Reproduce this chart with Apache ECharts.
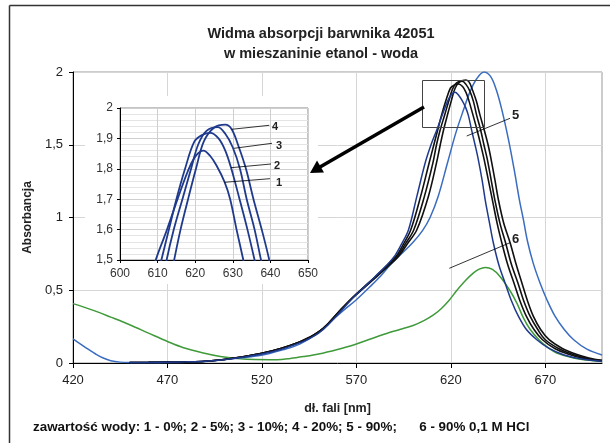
<!DOCTYPE html>
<html>
<head>
<meta charset="utf-8">
<script src="https://cdn.jsdelivr.net/npm/echarts@6/dist/echarts.min.js"></script>
<style>
  html, body { margin: 0; padding: 0; background: #fff; }
  #main { width: 610px; height: 443px; }
</style>
</head>
<body>
<div id="main"></div>
<script>
// osie
var xTicks = [420, 470, 520, 570, 620, 670];
var yTicks = [0, 0.5, 1, 1.5, 2];

// widma: [dł. fali nm, absorbancja]
// 1 - 0% wody
var curve1 = [[450,0.002],[460,0.004],[470,0.006],[480,0.008],[490,0.012],[500,0.022],[510,0.04],[520,0.062],[530,0.093],[540,0.138],[545,0.168],[550,0.205],[555,0.262],[562,0.36],[568,0.445],[574,0.52],[580,0.595],[586,0.672],[590.5,0.74],[594,0.82],[597.6,0.916],[602,1.145],[606.4,1.375],[609.5,1.5],[612.5,1.6],[615.3,1.7],[618.3,1.8],[620.3,1.845],[622.2,1.86],[624,1.842],[625.7,1.81],[627.8,1.757],[629.3,1.7],[631,1.6],[632.8,1.5],[634.5,1.4],[636.5,1.26],[638.2,1.12],[640.5,0.96],[642.5,0.825],[645.5,0.67],[648.7,0.55],[652,0.43],[655.8,0.32],[660,0.23],[665.5,0.16],[672,0.1],[680,0.055],[690,0.025],[700,0.012]];
// 2 - 5%
var curve2 = [[450,0.003],[460,0.004],[470,0.006],[480,0.008],[490,0.012],[500,0.024],[510,0.043],[520,0.067],[530,0.1],[540,0.145],[545,0.175],[550,0.213],[555,0.27],[562,0.37],[568,0.45],[574,0.522],[580,0.593],[586,0.668],[591,0.733],[595,0.82],[598.8,0.916],[604,1.145],[608.5,1.375],[611,1.5],[613,1.6],[615,1.7],[617.3,1.8],[619.8,1.89],[622,1.912],[624,1.918],[626.2,1.9],[628,1.86],[629.5,1.805],[631.8,1.7],[633.9,1.6],[635.8,1.5],[637.6,1.4],[639.8,1.26],[642,1.12],[644.5,0.96],[647,0.825],[650,0.68],[653.4,0.55],[656.5,0.43],[660,0.32],[664,0.23],[668.5,0.16],[675,0.1],[682,0.062],[690,0.032],[700,0.015]];
// 3 - 10%
var curve3 = [[450,0.003],[460,0.004],[470,0.006],[480,0.008],[490,0.012],[500,0.024],[510,0.043],[520,0.067],[530,0.1],[540,0.145],[545,0.175],[550,0.213],[555,0.27],[562,0.37],[568,0.45],[574,0.52],[580,0.59],[586,0.662],[591.7,0.733],[596,0.82],[600.4,0.916],[606,1.145],[610.5,1.375],[612.4,1.5],[614.3,1.6],[616.6,1.7],[618.9,1.8],[620.8,1.88],[623,1.925],[626,1.937],[628,1.915],[630,1.87],[631.9,1.8],[633.7,1.7],[635.8,1.6],[637.5,1.5],[639.3,1.4],[641.3,1.26],[643.3,1.12],[646,0.96],[649,0.825],[652,0.68],[655.5,0.55],[658.5,0.43],[662,0.32],[666,0.23],[670,0.16],[677,0.1],[684,0.062],[692,0.032],[700,0.016]];
// 4 - 20%
var curve4 = [[450,0.003],[460,0.004],[470,0.006],[480,0.008],[490,0.012],[500,0.024],[510,0.043],[520,0.067],[530,0.1],[540,0.145],[545,0.175],[550,0.213],[555,0.27],[562,0.368],[568,0.447],[574,0.517],[580,0.585],[586,0.655],[592.3,0.733],[597,0.82],[602,0.916],[608.1,1.145],[612.4,1.375],[614.4,1.5],[616.1,1.6],[618.1,1.7],[620.2,1.8],[622.3,1.89],[625,1.935],[628,1.945],[629.7,1.93],[631.5,1.875],[633.5,1.8],[635.5,1.7],[637.7,1.6],[639.7,1.5],[641.3,1.4],[643.3,1.26],[645.2,1.12],[648,0.96],[651.4,0.825],[654.5,0.68],[657.6,0.55],[660.5,0.43],[663.7,0.32],[667.5,0.23],[672,0.16],[679,0.1],[686,0.062],[693,0.035],[700,0.018]];
// 5 - 90%
var curve5 = [[420,0.165],[424,0.13],[428,0.095],[432,0.062],[436,0.034],[440,0.016],[445,0.006],[450,0.003],[460,0.002],[470,0.003],[480,0.005],[489,0.01],[498,0.021],[507,0.033],[516,0.046],[524,0.066],[531,0.09],[540,0.13],[549,0.2],[556,0.28],[563,0.36],[570,0.435],[577,0.522],[583,0.6],[588,0.675],[594,0.752],[600,0.83],[605,0.91],[609,1.0],[613.4,1.15],[618.2,1.375],[622.6,1.58],[626.7,1.74],[630,1.86],[633.5,1.95],[637.5,2.0],[641,1.97],[644,1.88],[647,1.74],[650.5,1.535],[653.5,1.33],[656.3,1.12],[658.4,0.985],[660.5,0.84],[663.5,0.69],[667.2,0.55],[671,0.43],[675.2,0.32],[680,0.23],[685,0.16],[692,0.095],[700,0.055]];
// 6 - 90% 0,1 M HCl
var curve6 = [[420,0.408],[430,0.365],[440,0.315],[450,0.263],[460,0.205],[470,0.148],[478.5,0.105],[489,0.069],[498,0.045],[507,0.031],[516,0.024],[528,0.023],[535,0.031],[542,0.044],[550,0.062],[560,0.093],[568.5,0.124],[577,0.163],[586,0.203],[593,0.23],[600,0.258],[606,0.293],[611,0.332],[615,0.375],[619,0.43],[623,0.496],[628,0.57],[632,0.619],[635,0.645],[638.2,0.657],[642,0.643],[646,0.595],[651.4,0.495],[655,0.41],[658.4,0.31],[662,0.23],[667,0.155],[672,0.1],[676,0.069],[685,0.034],[692,0.02],[700,0.011]];

var FONT = '"Liberation Sans", Arial, sans-serif';
var NAVY = '#1f3a8c';
var BLUE5 = '#3a6cc0';
var GREEN = '#3f9a3a';
var BLACK = '#111111';

function comma(v) {
    return String(+v.toFixed(2)).replace('.', ',');
}

function line(name, data, color, width, xi, z) {
    return {
        name: name,
        type: 'line',
        data: data,
        xAxisIndex: xi,
        yAxisIndex: xi,
        showSymbol: false,
        smooth: 0.35,
        z: z,
        lineStyle: { color: color, width: width },
        silent: true
    };
}

var myChart = echarts.init(document.getElementById('main'));

var option = {
    backgroundColor: '#fff',
    animation: false,
    textStyle: { fontFamily: FONT },
    title: {
        text: 'Widma absorpcji barwnika 42051\nw mieszaninie etanol - woda',
        left: 316,
        top: 19,
        textAlign: 'center',
        textStyle: { fontSize: 14.5, fontWeight: 'bold', color: '#222', lineHeight: 20, fontFamily: FONT }
    },
    grid: [
        { left: 73, top: 72, width: 529, height: 291, show: true, borderColor: '#999', borderWidth: 1, z: 0 },
        { left: 120, top: 108, width: 188, height: 152, show: true, borderColor: '#888', borderWidth: 1, z: 3 }
    ],
    xAxis: [
        {
            type: 'value', gridIndex: 0, min: 420, max: 700, interval: 10,
            axisLine: { lineStyle: { color: '#000', width: 1 } },
            axisTick: { customValues: xTicks, length: 5, lineStyle: { color: '#000' } },
            axisLabel: { customValues: xTicks, margin: 11, fontSize: 13, color: '#222' },
            splitLine: { show: true, lineStyle: { color: '#d6d6d6', width: 1 } },
            name: 'dł. fali [nm]', nameLocation: 'middle', nameGap: 39,
            nameTextStyle: { fontSize: 12.5, fontWeight: 'bold', color: '#222' }
        },
        {
            type: 'value', gridIndex: 1, min: 600, max: 650, interval: 10, z: 3,
            axisLine: { lineStyle: { color: '#000', width: 1 } },
            axisTick: { length: 3, lineStyle: { color: '#000' } },
            axisLabel: { margin: 8, fontSize: 12, color: '#333' },
            splitLine: { show: true, lineStyle: { color: '#cfcfcf', width: 1 } }
        }
    ],
    yAxis: [
        {
            type: 'value', gridIndex: 0, min: 0, max: 2, interval: 0.1,
            axisLine: { show: true, lineStyle: { color: '#000', width: 1 } },
            axisTick: { show: true, customValues: yTicks, length: 4, lineStyle: { color: '#000' } },
            axisLabel: { customValues: yTicks, margin: 10, fontSize: 13, color: '#222', formatter: comma },
            splitLine: { show: true, lineStyle: { color: '#d6d6d6', width: 1 } },
            name: 'Absorbancja', nameLocation: 'middle', nameGap: 39,
            nameTextStyle: { fontSize: 12, fontWeight: 'bold', color: '#222' }
        },
        {
            type: 'value', gridIndex: 1, min: 1.5, max: 2, interval: 0.1, z: 3,
            axisLine: { show: true, lineStyle: { color: '#000', width: 1 } },
            axisTick: { show: true, length: 3, lineStyle: { color: '#000' } },
            axisLabel: { margin: 7, fontSize: 12, color: '#333', formatter: comma },
            splitLine: { show: true, lineStyle: { color: '#cfcfcf', width: 1 } },
            minorSplitLine: { show: true, lineStyle: { color: '#e4e4e4', width: 1 } },
            minorTick: { show: false, splitNumber: 5 }
        }
    ],
    series: [
        line('6', curve6, GREEN, 1.5, 0, 2),
        line('5', curve5, BLUE5, 1.5, 0, 2),
        line('4', curve4, BLACK, 1.6, 0, 2),
        line('3', curve3, BLACK, 1.6, 0, 2),
        line('2', curve2, BLACK, 1.6, 0, 2),
        line('1', curve1, NAVY, 1.5, 0, 3),
        // powiekszenie
        line('1i', curve1, NAVY, 1.8, 1, 4),
        line('2i', curve2, NAVY, 1.8, 1, 4),
        line('3i', curve3, NAVY, 1.8, 1, 4),
        line('4i', curve4, NAVY, 1.8, 1, 4)
    ],
    graphic: [
        // ramka
        { type: 'line', z: 10, shape: { x1: 9.5, y1: 5.5, x2: 9.5, y2: 443 }, style: { stroke: '#333', lineWidth: 1.5 } },
        { type: 'line', z: 10, shape: { x1: 9.5, y1: 5.5, x2: 610, y2: 5.5 }, style: { stroke: '#333', lineWidth: 1.5 } },
        // tlo wstawki
        { type: 'rect', z: 1, shape: { x: 85, y: 96, width: 233, height: 188 }, style: { fill: '#fff' } },
        // prostokat powiekszenia
        { type: 'rect', z: 10, shape: { x: 422.5, y: 80.5, width: 62, height: 47 }, style: { fill: 'none', stroke: '#444', lineWidth: 1 } },
        // strzalka
        { type: 'line', z: 10, shape: { x1: 424, y1: 107, x2: 320, y2: 167 }, style: { stroke: '#000', lineWidth: 3.5 } },
        { type: 'polygon', z: 10, shape: { points: [[310, 173], [324, 172.5], [317, 160.5]] }, style: { fill: '#000' } },
        // opisy krzywych
        { type: 'line', z: 10, shape: { x1: 466.7, y1: 136, x2: 510, y2: 118.3 }, style: { stroke: '#000', lineWidth: 0.8 } },
        { type: 'text', z: 10, x: 512, y: 115, style: { text: '5', fontSize: 13, fontWeight: 'bold', fontFamily: FONT, fill: '#222', textVerticalAlign: 'middle' } },
        { type: 'line', z: 10, shape: { x1: 449.3, y1: 268.3, x2: 510, y2: 242.7 }, style: { stroke: '#000', lineWidth: 0.8 } },
        { type: 'text', z: 10, x: 512, y: 239, style: { text: '6', fontSize: 13, fontWeight: 'bold', fontFamily: FONT, fill: '#222', textVerticalAlign: 'middle' } },
        { type: 'line', z: 10, shape: { x1: 231.7, y1: 129.3, x2: 269.3, y2: 125.3 }, style: { stroke: '#000', lineWidth: 0.8 } },
        { type: 'text', z: 10, x: 272, y: 126.5, style: { text: '4', fontSize: 11, fontWeight: 'bold', fontFamily: FONT, fill: '#222', textVerticalAlign: 'middle' } },
        { type: 'line', z: 10, shape: { x1: 234, y1: 148.3, x2: 272, y2: 143.3 }, style: { stroke: '#000', lineWidth: 0.8 } },
        { type: 'text', z: 10, x: 276, y: 146, style: { text: '3', fontSize: 11, fontWeight: 'bold', fontFamily: FONT, fill: '#222', textVerticalAlign: 'middle' } },
        { type: 'line', z: 10, shape: { x1: 231, y1: 167.7, x2: 271, y2: 164 }, style: { stroke: '#000', lineWidth: 0.8 } },
        { type: 'text', z: 10, x: 274, y: 165.5, style: { text: '2', fontSize: 11, fontWeight: 'bold', fontFamily: FONT, fill: '#222', textVerticalAlign: 'middle' } },
        { type: 'line', z: 10, shape: { x1: 224.3, y1: 182.3, x2: 270, y2: 178.7 }, style: { stroke: '#000', lineWidth: 0.8 } },
        { type: 'text', z: 10, x: 276, y: 182.5, style: { text: '1', fontSize: 11, fontWeight: 'bold', fontFamily: FONT, fill: '#222', textVerticalAlign: 'middle' } },
        // legenda opisowa
        { type: 'text', z: 10, x: 33, y: 427, style: { text: 'zawartość wody: 1 - 0%; 2 - 5%; 3 - 10%; 4 - 20%; 5 - 90%;      6 - 90% 0,1 M HCl', fontSize: 13.4, fontWeight: 'bold', fontFamily: FONT, fill: '#111', textVerticalAlign: 'middle' } }
    ]
};

myChart.setOption(option);
</script>
</body>
</html>
